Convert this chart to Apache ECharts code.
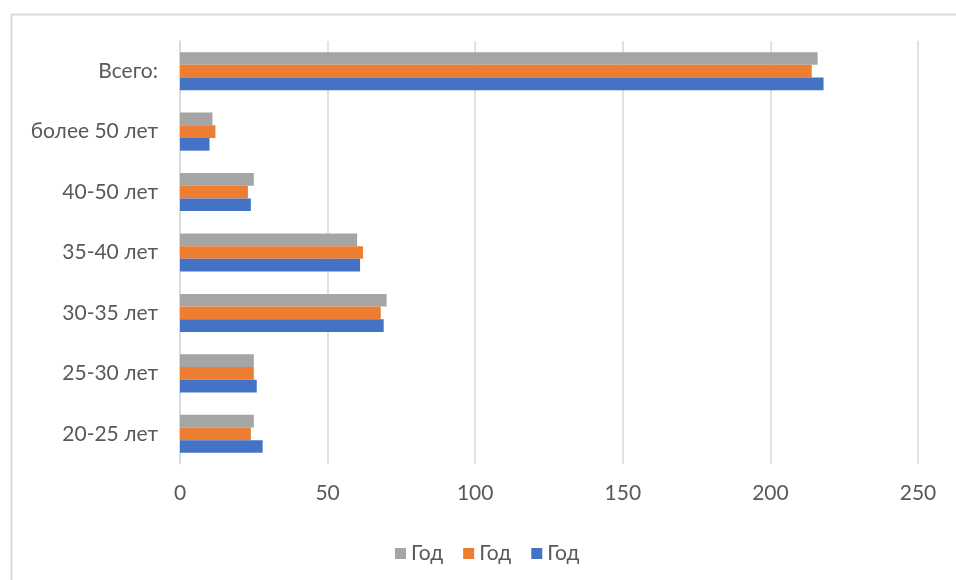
<!DOCTYPE html>
<html>
<head>
<meta charset="utf-8">
<script src="https://cdn.jsdelivr.net/npm/echarts@6/dist/echarts.min.js"></script>
<style>
  html, body { margin: 0; padding: 0; background: #ffffff; }
  #chart { width: 956px; height: 580px; }
</style>
</head>
<body>
<div id="chart"></div>
<script>
// Age groups, bottom to top
const categories = ['20-25 лет', '25-30 лет', '30-35 лет', '35-40 лет', '40-50 лет', 'более 50 лет', 'Всего:'];

// Three yearly series (all labelled «Год» in the legend)
const seriesBlue   = [28, 26, 69, 61, 24, 10, 218];
const seriesOrange = [24, 25, 68, 62, 23, 12, 214];
const seriesGray   = [25, 25, 70, 60, 25, 11, 216];

const legendLabel = 'Год';
const xTicks = { min: 0, max: 250, interval: 50 };

const FONT = 'Lato, "Open Sans", sans-serif';
const TEXT = '#595959';
const GRID = '#d9d9d9';

const chart = echarts.init(document.getElementById('chart'), null, { renderer: 'canvas' });

function bar(key, color, data) {
  return {
    name: key,
    type: 'bar',
    data: data,
    barGap: '0%',
    barCategoryGap: '37%',
    itemStyle: { color: color },
    emphasis: { disabled: true }
  };
}

chart.setOption({
  animation: false,
  backgroundColor: '#ffffff',
  textStyle: { fontFamily: FONT },
  graphic: [{
    type: 'rect',
    left: 9, top: 12,
    shape: { width: 1000, height: 700 },
    style: { fill: 'none', stroke: GRID, lineWidth: 2 },
    silent: true
  }],
  grid: { left: 180, right: 38, top: 41, bottom: 116, containLabel: false },
  legend: {
    data: ['gray', 'orange', 'blue'],
    formatter: function () { return legendLabel; },
    left: 390,
    top: 538,
    icon: 'rect',
    itemWidth: 11,
    itemHeight: 11,
    itemGap: 20,
    textStyle: { color: TEXT, fontSize: 21, fontFamily: FONT },
    selectedMode: false
  },
  xAxis: {
    type: 'value',
    min: xTicks.min,
    max: xTicks.max,
    interval: xTicks.interval,
    axisLine: { show: false },
    axisTick: { show: false },
    splitLine: { show: true, lineStyle: { color: GRID, width: 1.5 } },
    axisLabel: { color: TEXT, fontSize: 21, margin: 19, fontFamily: FONT }
  },
  yAxis: {
    type: 'category',
    data: categories,
    axisLine: { show: true, lineStyle: { color: GRID, width: 1.5 } },
    axisTick: { show: false },
    axisLabel: { color: TEXT, fontSize: 21, margin: 22, fontFamily: FONT }
  },
  // first series is drawn at the top of each group
  series: [
    bar('gray', '#A5A5A5', seriesGray),
    bar('orange', '#ED7D31', seriesOrange),
    bar('blue', '#4472C4', seriesBlue)
  ]
});
</script>
</body>
</html>
